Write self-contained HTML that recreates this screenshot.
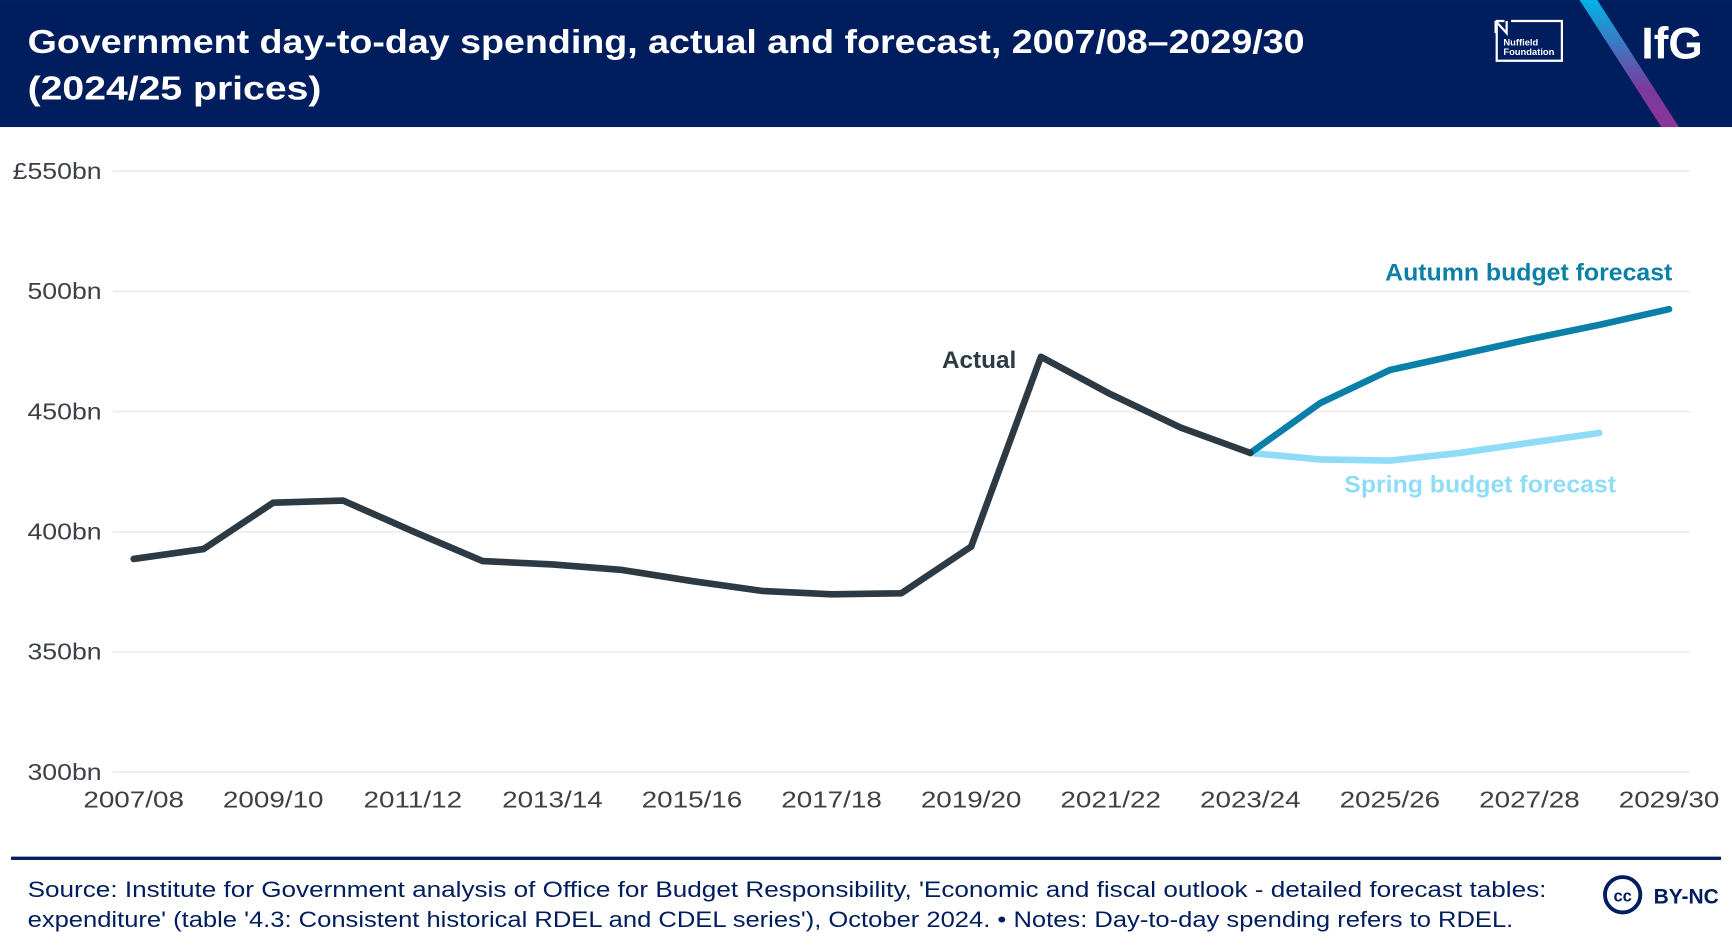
<!DOCTYPE html>
<html><head><meta charset="utf-8"><style>
html,body{margin:0;padding:0;background:#fff}
svg{display:block;font-family:"Liberation Sans",sans-serif}
</style></head><body>
<svg id="chart" width="1732" height="948" viewBox="0 0 1568 858.2" xmlns="http://www.w3.org/2000/svg">
<defs><linearGradient id="stripe" x1="0" y1="0" x2="0" y2="1"><stop offset="0" stop-color="#00b4e6"/><stop offset="0.7" stop-color="#7b3a9e"/><stop offset="1" stop-color="#8a3596"/></linearGradient></defs>
<rect x="0" y="0" width="1568" height="115" fill="#001d5e"/>
<text fill="#fff" font-weight="bold" font-size="30"><tspan x="25" y="48" textLength="1156" lengthAdjust="spacingAndGlyphs">Government day-to-day spending, actual and forecast, 2007/08–2029/30</tspan><tspan x="25" y="90" textLength="266" lengthAdjust="spacingAndGlyphs">(2024/25 prices)</tspan></text>
<g>
<path d="M1354 19 L1362 19 M1368 19 L1414 19 L1414 55 L1355 55 L1355 19" fill="none" stroke="#fff" stroke-width="2"/>
<path d="M1354 19 L1354 30 M1354 19 L1364 30 L1364 19" fill="none" stroke="#fff" stroke-width="2"/>
<text x="1361" y="41" fill="#fff" font-size="8.5" font-weight="bold">Nuffield</text>
<text x="1361" y="50" fill="#fff" font-size="8.5" font-weight="bold">Foundation</text>
</g>
<polygon points="1430,0 1446,0 1520,115 1504,115" fill="url(#stripe)"/>
<text x="1486" y="53" fill="#fff" font-weight="bold" font-size="40">IfG</text>
<g id="grid"></g>
<g id="ylabels"></g>
<g id="xlabels"></g>
<g id="lines"></g>
<text x="920" y="333" text-anchor="end" font-weight="bold" font-size="22" fill="#2d3a44">Actual</text>
<text x="1514" y="254" text-anchor="end" font-weight="bold" font-size="22" fill="#0a7fa8" textLength="260" lengthAdjust="spacingAndGlyphs">Autumn budget forecast</text>
<text x="1463" y="446" text-anchor="end" font-weight="bold" font-size="22" fill="#8fdcf7" textLength="246" lengthAdjust="spacingAndGlyphs">Spring budget forecast</text>
<rect x="10" y="775.5" width="1548" height="3" fill="#001d5e"/>
<text fill="#001d5e" font-size="20"><tspan x="25" y="812" textLength="1375" lengthAdjust="spacingAndGlyphs">Source: Institute for Government analysis of Office for Budget Responsibility, 'Economic and fiscal outlook - detailed forecast tables:</tspan><tspan x="25" y="839" textLength="1345" lengthAdjust="spacingAndGlyphs">expenditure' (table '4.3: Consistent historical RDEL and CDEL series'), October 2024. • Notes: Day-to-day spending refers to RDEL.</tspan></text>
<g>
<circle cx="1469" cy="810" r="16" fill="none" stroke="#001d5e" stroke-width="3.5"/>
<text x="1469" y="816" text-anchor="middle" font-size="15" font-weight="bold" fill="#001d5e">cc</text>
<text x="1497" y="818" font-size="19" font-weight="bold" fill="#001d5e">BY-NC</text>
</g>
</svg>
<script>
const yTicks=[300,350,400,450,500,550];
const yTickLabels=["300bn","350bn","400bn","450bn","500bn","£550bn"];
const xTickLabels=["2007/08","2009/10","2011/12","2013/14","2015/16","2017/18","2019/20","2021/22","2023/24","2025/26","2027/28","2029/30"];
const xTickIdx=[0,2,4,6,8,10,12,14,16,18,20,22];
const actual=[388.7,392.8,412.1,413,400.2,387.8,386.4,384.1,379.5,375.4,374,374.4,393.8,472.8,457.2,443.4,432.8];
const autumn=[432.8,453.5,467.3,473.7,480.1,486.1,492.6];
const spring=[432.8,430.1,429.6,432.8,437,441.1];
const forecastStart=16;
const NS="http://www.w3.org/2000/svg";
function xs(i){return 121+i*(1511-121)/22;}
function ys(v){return 699-(v-300)*(699-155)/250;}
function mk(tag,attrs,parent){const e=document.createElementNS(NS,tag);for(const k in attrs)e.setAttribute(k,attrs[k]);document.getElementById(parent).appendChild(e);return e;}
function widen(t,f){const w=t.getComputedTextLength();t.setAttribute('textLength',w*f);t.setAttribute('lengthAdjust','spacingAndGlyphs');}
yTicks.forEach((v,i)=>{
 const l=mk('line',{x1:102,x2:1530,y1:ys(v),y2:ys(v),stroke:'#ebebeb','stroke-width':1.5},'grid');
 
 
 const t=mk('text',{x:92,y:ys(v)+7,'text-anchor':'end','font-size':21,fill:'#3d4147'},'ylabels');
 t.textContent=yTickLabels[i];
 
 
 widen(t,1.15);
});
xTickLabels.forEach((s,i)=>{
 const t=mk('text',{x:xs(xTickIdx[i]),y:731,'text-anchor':'middle','font-size':21,fill:'#3d4147'},'xlabels');
 t.textContent=s;
 
 
 widen(t,1.2);
});
function line(data,off,color,name){
 const d=data.map((v,i)=>(i?'L':'M')+xs(i+off)+' '+ys(v)).join(' ');
 const p=mk('path',{d:d,fill:'none',stroke:color,'stroke-width':6,'stroke-linejoin':'round','stroke-linecap':'round'},'lines');
 
 
}
line(spring,forecastStart,'#8fdcf7','spring-forecast-line');
line(autumn,forecastStart,'#0a7fa8','autumn-forecast-line');
line(actual,0,'#2d3a44','actual-line');
</script>
</body></html>
